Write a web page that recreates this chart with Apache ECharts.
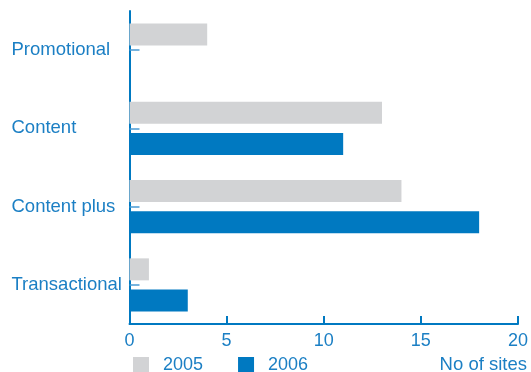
<!DOCTYPE html>
<html>
<head>
<meta charset="utf-8">
<script src="https://cdn.jsdelivr.net/npm/echarts@6/dist/echarts.min.js"></script>
<style>
  html, body { margin: 0; padding: 0; background: #fff; }
  #chart { width: 531px; height: 372px; }
</style>
</head>
<body>
<div id="chart"></div>
<script>
// Site types and the number of sites in each, per year
const categories = ['Promotional', 'Content', 'Content plus', 'Transactional'];
const sites2005 = [4, 13, 14, 1];
const sites2006 = [0, 11, 18, 3];
const xTicks = [0, 5, 10, 15, 20];

const BLUE = '#0079c1';
const GREY = '#d2d3d5';
const TEXT = '#1b7fc4';
const FONT = '"Liberation Sans", Arial, Helvetica, sans-serif';

const chart = echarts.init(document.getElementById('chart'), null, { renderer: 'canvas' });

chart.setOption({
  animation: false,
  backgroundColor: '#fff',
  textStyle: { fontFamily: FONT },
  grid: { left: 129.5, right: 13, top: 11, bottom: 48, containLabel: false },
  title: {
    text: 'No of sites',
    right: 4,
    top: 355,
    padding: 0,
    textStyle: { color: TEXT, fontSize: 18.5, fontWeight: 'normal', fontFamily: FONT }
  },
  legend: {
    left: 133,
    top: 356,
    padding: 0,
    itemWidth: 16,
    itemHeight: 16,
    itemGap: 35,
    icon: 'rect',
    data: ['2005', '2006'],
    textStyle: { color: TEXT, fontSize: 18, fontFamily: FONT, padding: [0, 0, 0, 9] }
  },
  xAxis: {
    type: 'value',
    min: xTicks[0],
    max: xTicks[xTicks.length - 1],
    interval: xTicks[1] - xTicks[0],
    axisLine: { show: true, lineStyle: { color: BLUE, width: 2 } },
    axisTick: { show: true, inside: true, length: 8, lineStyle: { color: BLUE, width: 2 } },
    axisLabel: { color: TEXT, fontSize: 18, margin: 8, fontFamily: FONT },
    splitLine: { show: false }
  },
  yAxis: {
    type: 'category',
    inverse: true,
    data: categories,
    axisLine: { show: true, lineStyle: { color: BLUE, width: 2 } },
    axisTick: { show: true, inside: true, alignWithLabel: true, length: 10, lineStyle: { color: '#4a9bd3', width: 1.5 } },
    axisLabel: { color: TEXT, fontSize: 18.5, align: 'left', margin: 118, fontFamily: FONT }
  },
  series: [
    {
      name: '2005',
      type: 'bar',
      data: sites2005,
      barWidth: 22,
      barGap: '41%',
      itemStyle: { color: GREY }
    },
    {
      name: '2006',
      type: 'bar',
      data: sites2006,
      barWidth: 22,
      itemStyle: { color: BLUE }
    }
  ]
});
</script>
</body>
</html>
